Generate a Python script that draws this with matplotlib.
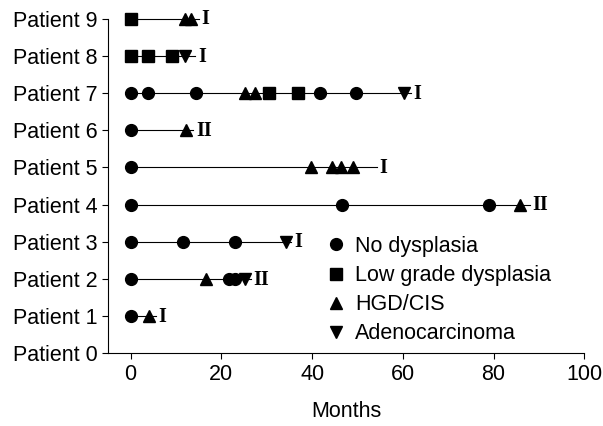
import matplotlib.pyplot as plt
from matplotlib.lines import Line2D

plt.rcParams['font.family'] = ['Liberation Sans', 'DejaVu Sans']

patients = ["Patient %d" % i for i in range(10)]

# months of each biopsy, per patient (patient 1 .. 9)
months = [
    [0, 4],
    [0, 16.6, 21.6, 23, 25.3],
    [0, 11.6, 23, 34.3],
    [0, 46.6, 78.9, 85.9],
    [0, 39.8, 44.4, 46.3, 49],
    [0, 12.2],
    [0, 3.8, 14.4, 25.3, 27.5, 30.4, 37, 41.8, 49.6, 60.3],
    [0, 3.8, 9.2, 12],
    [0, 12, 13.3],
]
# N = no dysplasia, L = low grade, H = HGD/CIS, A = adenocarcinoma
findings = [
    "NH",
    "NHNNA",
    "NNNA",
    "NNNH",
    "NHHHH",
    "NH",
    "NNNHHLLNNA",
    "LLLA",
    "LHH",
]
# end of follow-up line
line_end = [5.6, 26.5, 35.4, 88.0, 54.3, 13.8, 61.8, 14.2, 15.0]
stages = ["I", "II", "I", "II", "I", "II", "I", "I", "I"]

kinds = ["N", "L", "H", "A"]
kind_names = ["No dysplasia", "Low grade dysplasia", "HGD/CIS", "Adenocarcinoma"]
kind_markers = {"N": "o", "L": "s", "H": "^", "A": "v"}

fig = plt.figure(figsize=(6.03, 4.26), dpi=100)
ax = fig.add_axes([0.179, 0.171, 0.790, 0.785])

for i in range(len(months)):
    y = i + 1
    ax.plot([months[i][0], line_end[i]], [y, y], color='black', lw=0.8, zorder=1,
            clip_on=False)
    for k in kinds:
        xs = [m for m, f in zip(months[i], findings[i]) if f == k]
        if xs:
            ax.plot(xs, [y] * len(xs), linestyle='none', marker=kind_markers[k],
                    color='black', markersize=8.5, zorder=2, clip_on=False)
    ax.annotate(stages[i], (line_end[i], y), xytext=(2, -0.5), textcoords='offset points',
                ha='left', va='center', fontsize=14.5, family='Liberation Serif',
                fontweight='bold')

ax.set_xlim(-5, 100)
ax.set_ylim(0, 9)
ax.set_xticks([0, 20, 40, 60, 80, 100])
ax.set_yticks(range(10))
ax.set_yticklabels(patients)
ax.tick_params(labelsize=15.5, length=4, width=0.8)
ax.tick_params(axis='x', pad=4)
ax.spines['top'].set_visible(False)
ax.spines['right'].set_visible(False)
ax.set_xlabel("Months", fontsize=15.5, labelpad=11)

handles = [Line2D([], [], linestyle='none', marker=kind_markers[k], color='black',
                  markersize=8.5) for k in kinds]
ax.legend(handles, kind_names, frameon=False, fontsize=15.5, loc='lower left',
          bbox_to_anchor=(0.42, -0.032), handlelength=0.8, handletextpad=0.5,
          labelspacing=0.38)

fig.savefig("out.png", dpi=100)
